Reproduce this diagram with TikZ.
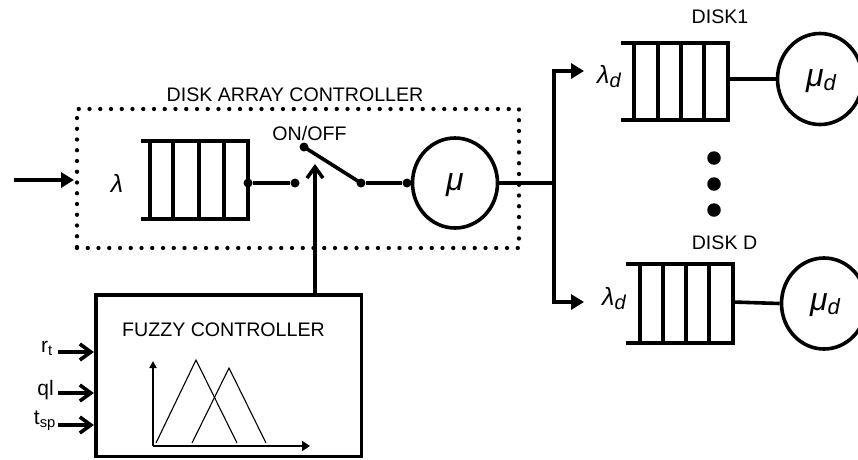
\documentclass[tikz,border=0pt]{standalone}
\usepackage{fontspec}
\setmainfont{Liberation Sans}
\usetikzlibrary{arrows.meta,shapes.geometric}
\begin{document}
\begin{tikzpicture}[x=1pt,y=-1pt,
  thickln/.style={line width=3.6pt},
  lbl/.style={font=\fontsize{19.6}{22}\selectfont, inner sep=0pt},
  inlbl/.style={font=\fontsize{21}{24}\selectfont, inner sep=0pt},
  greek/.style={font=\fontsize{25}{28}\selectfont\itshape, inner sep=0pt},
  srvtxt/.style={font=\fontsize{32}{34}\selectfont\itshape},
  srv/.style={ellipse, draw, line width=3.6pt, minimum width=85pt, minimum height=90pt, inner sep=0pt},
  jdot/.style={circle, fill, inner sep=0pt, minimum size=9pt},
  bigdot/.style={circle, fill, inner sep=0pt, minimum size=13.5pt},
  tri/.style={-{Triangle[length=13pt,width=15pt]}},
  barb/.style={-{Straight Barb[length=11pt,width=16pt,line width=3.6pt]}},
  dotbox/.style={draw, line width=4.3pt, line cap=round, dash pattern=on 0pt off 10.75pt},
  fuzzyln/.style={line width=1.1pt}
]
\clip (0,0) rectangle (858,459);

% Disk array controller dotted frame
\node[dotbox, minimum width=442pt, minimum height=139pt, inner sep=0pt] (dac) at (298,178.5) {};
\node[lbl] (daclbl) at (295,95) {DISK ARRAY CONTROLLER};

% input arrow
\coordinate (inp) at (14,180);
\coordinate (inpend) at (74,180);
\draw[thickln,tri] (inp) -- (inpend);
\node[greek] (lam) at (117,183) {λ};

% main queue
\draw[thickln] (141,141) -- (248,141) -- (248,219) -- (141,219);
\foreach \x in {150,173,199,224} \draw[thickln] (\x,141) -- (\x,219);
\node[jdot] (q1out) at (248,183) {};

% switch
\node[jdot] (swin) at (295,183) {};
\node[jdot] (swtop) at (304,147) {};
\node[jdot] (swout) at (361,183) {};
\node[lbl] (onoff) at (309.5,133) {ON/OFF};
\draw[thickln] (q1out) -- (swin);
\draw[thickln] (swtop.center) -- (swout.center);

% server mu
\node[srv] (mu) at (455,183) {};
\node[srvtxt] (mulbl) at (455,185) {μ};
\node[jdot] (muin) at (407,183) {};
\draw[thickln] (swout) -- (muin);

% fuzzy controller
\node[draw, line width=3.6pt, minimum width=265.6pt, minimum height=161.7pt, inner sep=0pt] (fz) at (228.5,375.8) {};
\node[lbl] (fzlbl) at (223.5,330) {FUZZY CONTROLLER};
\coordinate (swtip) at (315,164);
\draw[thickln,barb] (fz.north -| swtip) -- (swtip);

% fuzzy inputs
\node[inlbl, anchor=east] (rt) at (53,348) {r\textsubscript{t}};
\node[inlbl, anchor=east] (ql) at (54,390) {ql};
\node[inlbl, anchor=east] (tsp) at (56,421) {t\textsubscript{sp}};
\coordinate (in1) at (58,352);
\coordinate (in2) at (58,393);
\coordinate (in3) at (58,425);
\draw[thickln,barb] (in1) -- (in1 -| fz.west);
\draw[thickln,barb] (in2) -- (in2 -| fz.west);
\draw[thickln,barb] (in3) -- (in3 -| fz.west);

% membership functions
\coordinate (orig) at (153,446);
\coordinate (yax) at (153,361);
\coordinate (xax) at (310,446);
\draw[line width=2.2pt,-{Triangle[length=7pt,width=7pt]}] (orig) -- (yax);
\draw[line width=2.2pt,-{Triangle[length=8pt,width=10pt]}] (orig) -- (xax);
\draw[fuzzyln] (156,443) -- (196,360) -- (237,443);
\draw[fuzzyln] (192,443) -- (229,368) -- (266,443);

% branch to disks
\coordinate (br) at (554,183);
\coordinate (a1) at (584,71);
\coordinate (a2) at (584,302);
\draw[thickln] (mu.east) -- (br);
\draw[thickln,tri] (br) |- (a1);
\draw[thickln,tri] (br) |- (a2);

% disk 1
\node[lbl] (d1lbl) at (720,17) {DISK1};
\node[greek,anchor=west] (lamd1) at (597,77) {λ\raisebox{-4pt}{\fontsize{20}{22}\selectfont d}};
\draw[thickln] (621,43) -- (728,43) -- (728,120) -- (621,120);
\foreach \x in {634,658,681,704} \draw[thickln] (\x,43) -- (\x,120);
\coordinate (q2out) at (728,79);
\node[srv, minimum height=91pt] (mud1) at (820,79) {};
\node[srvtxt] (mud1lbl) at (821,81) {μ\raisebox{-4pt}{\fontsize{22}{24}\selectfont d}};
\draw[thickln] (q2out) -- (mud1.west);

% ellipsis dots
\node[bigdot] (e1) at (714,158) {};
\node[bigdot] (e2) at (714,184) {};
\node[bigdot] (e3) at (714,210) {};

% disk D
\node[lbl] (dDlbl) at (724.5,243) {DISK D};
\node[greek,anchor=west] (lamdD) at (602,299) {λ\raisebox{-4pt}{\fontsize{20}{22}\selectfont d}};
\draw[thickln] (626,264) -- (733,264) -- (733,343) -- (626,343);
\foreach \x in {640,663,686,709} \draw[thickln] (\x,264) -- (\x,343);
\coordinate (q3out) at (733,302);
\node[srv, minimum height=91pt] (mudD) at (824,303.5) {};
\node[srvtxt] (mudDlbl) at (825,305) {μ\raisebox{-4pt}{\fontsize{22}{24}\selectfont d}};
\draw[thickln] (q3out) -- (mudD.west);
\end{tikzpicture}
\end{document}
